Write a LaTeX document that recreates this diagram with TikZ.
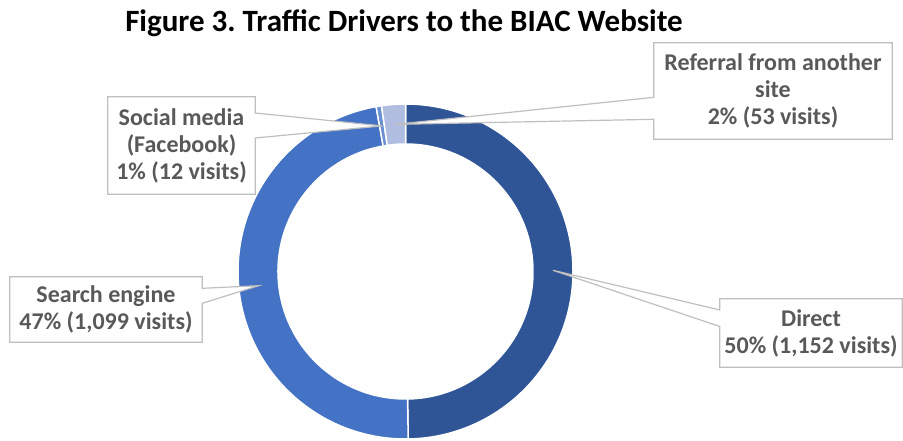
\documentclass[tikz,border=0pt]{standalone}
\usepackage{fontspec}
\setmainfont{Carlito}
\frenchspacing
\usetikzlibrary{calc}
\definecolor{directblue}{HTML}{2F5597}
\definecolor{searchblue}{HTML}{4472C4}
\definecolor{socialblue}{HTML}{6A8FD2}
\definecolor{referralblue}{HTML}{B0BDE0}
\definecolor{labelgray}{HTML}{595959}
\definecolor{framegray}{HTML}{BFBFBF}
\pgfdeclarelayer{ring}
\pgfdeclarelayer{frame}
\pgfsetlayers{ring,frame,main}
% one ring segment: colour, start and end angle (clockwise from the top)
\newcommand\ringseg[3]{%
  \filldraw[fill=#1, draw=white, line width=1.5pt]
    ($(C)+({#2-90}:167.5)$) arc[start angle={#2-90}, end angle={#3-90}, radius=167.5]
    -- ($(C)+({#3-90}:127.5)$) arc[start angle={#3-90}, end angle={#2-90}, radius=127.5]
    -- cycle;}
\begin{document}
\begin{tikzpicture}[x=1pt, y=-1pt,
  lbl/.style={font=\bfseries\fontsize{24}{27}\selectfont, text=labelgray,
    align=center, inner sep=0pt},
  callout/.style={draw=framegray, line width=1.2pt, fill=white, line join=miter}]
\useasboundingbox (0,0) rectangle (903,440);

\node[font=\bfseries\fontsize{31}{36}\selectfont, anchor=base, inner sep=0pt]
  (title) at (404,31.7) {Figure 3. Traffic Drivers to the BIAC Website};

% doughnut: Direct 1,152 / Search 1,099 / Social 12 / Referral 53
\coordinate (C) at (405.5,271.5);
\begin{pgfonlayer}{ring}
  \ringseg{directblue}{0}{179.067}
  \ringseg{searchblue}{179.067}{349.896}
  \ringseg{socialblue}{349.896}{351.762}
  \ringseg{referralblue}{351.762}{360}
\end{pgfonlayer}

% points in the middle of each segment
\coordinate (tipD) at ($(C)+(-0.47:147.5)$);
\coordinate (tipE) at ($(C)+(174.48:147.5)$);
\coordinate (tipS) at ($(C)+(260.83:147.5)$);
\coordinate (tipR) at ($(C)+(265.88:147.5)$);

% labels
\node[lbl, minimum width=147pt, minimum height=97pt] (soc) at (181.5,145.5)
  {Social media\\(Facebook)\\1\% (12 visits)};
\node[lbl, minimum width=238pt, minimum height=96pt] (ref) at (773,91)
  {Referral from another\\site\\2\% (53 visits)};
\node[lbl, minimum width=192pt, minimum height=65pt] (sea) at (106,309.5)
  {Search engine\\47\% (1,099 visits)};
\node[lbl, minimum width=182pt, minimum height=68pt] (dir) at (811,333)
  {Direct\\50\% (1,152 visits)};

% callout frames with their pointers
\begin{pgfonlayer}{frame}
  \filldraw[callout] (soc.north west) -- (soc.north east) -- (soc.east |- 0,113)
    -- (tipS) -- (soc.east |- 0,138) -- (soc.south east) -- (soc.south west) -- cycle;
  \filldraw[callout] (ref.north west) -- (ref.west |- 0,97.3) -- (tipR)
    -- (ref.west |- 0,119.3) -- (ref.south west) -- (ref.south east)
    -- (ref.north east) -- cycle;
  \filldraw[callout] (sea.north west) -- (sea.north east) -- (sea.east |- 0,288.3)
    -- (tipE) -- (sea.east |- 0,303.3) -- (sea.south east) -- (sea.south west) -- cycle;
  \filldraw[callout] (dir.north west) -- (dir.west |- 0,310) -- (tipD)
    -- (dir.west |- 0,326.5) -- (dir.south west) -- (dir.south east)
    -- (dir.north east) -- cycle;
\end{pgfonlayer}
\end{tikzpicture}
\end{document}
